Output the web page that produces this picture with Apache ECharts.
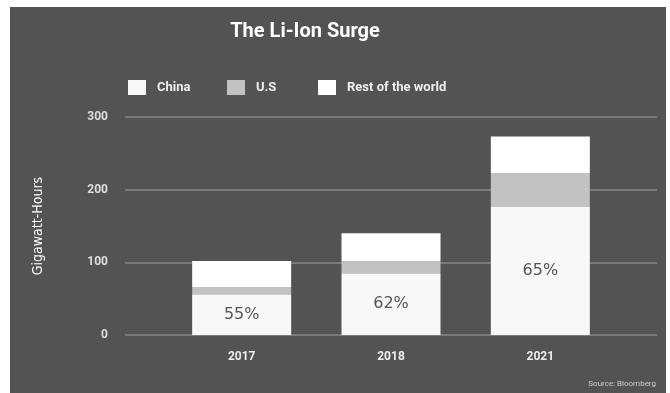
<!DOCTYPE html>
<html><head><meta charset="utf-8">
<script src="https://cdn.jsdelivr.net/npm/echarts@6/dist/echarts.min.js"></script>
<style>
html,body{margin:0;padding:0;background:#fff;}
#wrap{position:relative;width:670px;height:393px;background:#fff;}
#c{position:absolute;left:10px;top:7px;width:656px;height:386px;}
</style></head>
<body><div id="wrap"><div id="c"></div></div>
<script>
const years = ['2017', '2018', '2021'];
const china = [56, 85, 176];
const us = [10, 17, 47];
const rest = [36, 38, 50];
const shares = ['55%', '62%', '65%'];
const yTicks = [0, 100, 200, 300];
const seriesNames = ['China', 'U.S', 'Rest of the world'];

const chart = echarts.init(document.getElementById('c'));
const gTop = 110, gBottom = 58;
const legendLefts = [118, 217, 308];
const legendStyle = {color: '#eee', fontSize: 13, fontWeight: 'bold', fontFamily: 'Roboto', padding: [0, 0, 0, 6]};
chart.setOption({
  backgroundColor: '#535353',
  animation: false,
  title: {
    text: 'The Li-Ion Surge', left: 295, top: 15, padding: 0,
    textAlign: 'center',
    textStyle: {color: '#fff', fontSize: 20, fontWeight: 'bold', fontFamily: 'Roboto'}
  },
  legend: seriesNames.map((n, i) => ({
    left: legendLefts[i], top: 73, padding: 0, itemWidth: 18, itemHeight: 15,
    icon: 'rect', textStyle: legendStyle, data: [n]
  })),
  grid: [
    {left: 115, right: 9, top: gTop, bottom: gBottom},
    {left: 157, width: 448, top: gTop, bottom: gBottom}
  ],
  xAxis: [
    {type: 'category', gridIndex: 0, data: years, show: false},
    {type: 'category', gridIndex: 1, data: years,
     axisLine: {show: false}, axisTick: {show: false},
     axisLabel: {color: '#eee', fontSize: 12, fontWeight: 'bold', fontFamily: 'Roboto', margin: 16}}
  ],
  yAxis: [
    {type: 'value', gridIndex: 0, min: yTicks[0], max: yTicks[yTicks.length - 1], interval: 100,
     name: 'Gigawatt-Hours', nameLocation: 'middle', nameGap: 80, nameRotate: 90,
     nameTextStyle: {color: '#fff', fontSize: 14, fontFamily: 'DejaVu Sans Condensed'},
     axisLine: {show: false}, axisTick: {show: false},
     axisLabel: {color: '#ddd', fontSize: 12, fontWeight: 'bold', fontFamily: 'Roboto', margin: 17},
     splitLine: {lineStyle: {color: '#7a7a7a', width: 2}}},
    {type: 'value', gridIndex: 1, min: yTicks[0], max: yTicks[yTicks.length - 1], interval: 100, show: false,
     splitLine: {show: false}}
  ],
  series: [
    {name: seriesNames[0], type: 'bar', stack: 's', xAxisIndex: 1, yAxisIndex: 1, data: china, barWidth: 99,
     itemStyle: {color: '#f8f8f8'},
     label: {show: true, position: 'inside', color: '#555', fontSize: 16, fontFamily: 'DejaVu Sans',
       formatter: p => shares[p.dataIndex]}},
    {name: seriesNames[1], type: 'bar', stack: 's', xAxisIndex: 1, yAxisIndex: 1, data: us, barWidth: 99,
     itemStyle: {color: '#c2c2c2'}},
    {name: seriesNames[2], type: 'bar', stack: 's', xAxisIndex: 1, yAxisIndex: 1, data: rest, barWidth: 99,
     itemStyle: {color: '#ffffff'}}
  ],
  graphic: [{
    type: 'text', right: 10, top: 373,
    style: {text: 'Source: Bloomberg', fill: '#ccc', fontSize: 8, fontFamily: 'Roboto'}
  }]
});
</script></body></html>
